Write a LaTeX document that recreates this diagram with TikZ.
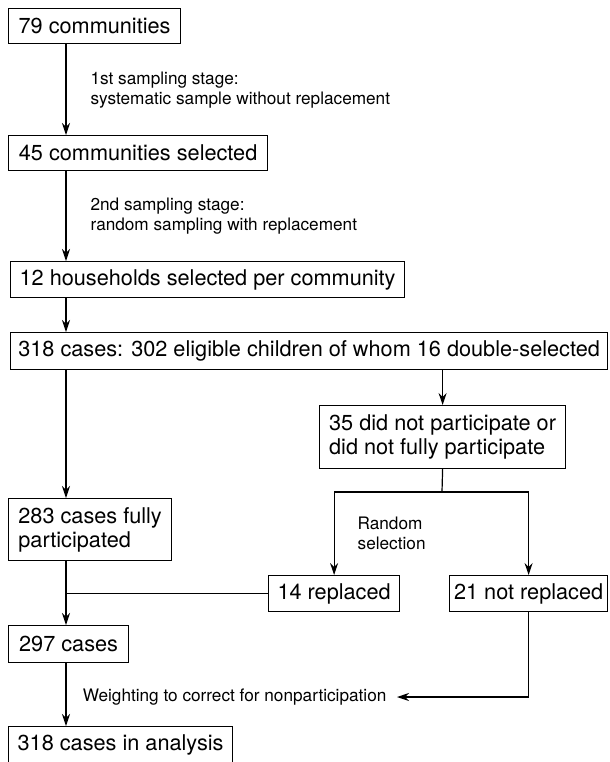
\documentclass[tikz,border=0pt]{standalone}
\usepackage{fontspec}
\setmainfont{TeX Gyre Heros}
\usetikzlibrary{arrows.meta}

\begin{document}
\begin{tikzpicture}[x=0.5pt, y=-0.5pt, line width=0.6pt,
  box/.style={draw, anchor=north west, align=left, inner sep=0pt,
    font=\fontsize{10.85}{12}\selectfont},
  lbl/.style={inner sep=0pt, align=left, font=\fontsize{8.6}{10}\selectfont},
  arr/.style={-{Stealth[length=6pt, width=4pt, inset=2pt]}}]
\path[use as bounding box, clip] (0,0) rectangle (610,762);

\node[box, minimum width=86pt, minimum height=17.5pt] (A) at (8,8) {79 communities};
\node[box, minimum width=129.5pt, minimum height=17.5pt] (B) at (8,135) {45 communities selected};
\node[box, minimum width=197pt, minimum height=18pt] (C) at (10,261) {12 households selected per community};
\node[box, minimum width=298.5pt, minimum height=18.5pt] (D) at (10,332) {318 cases: 302 eligible children of whom 16 double-selected};
\node[box, minimum width=123pt, minimum height=31.5pt] (E) at (319,405) {35 did not participate or\\did not fully participate};
\node[box, minimum width=81.5pt, minimum height=31pt] (F) at (8,498) {283 cases fully\\participated};
\node[box, minimum width=65.5pt, minimum height=18pt] (G) at (268,575) {14 replaced};
\node[box, minimum width=79pt, minimum height=18pt] (H) at (449,575) {21 not replaced};
\node[box, minimum width=60pt, minimum height=18.5pt] (I) at (8,625) {297 cases};
\node[box, minimum width=112pt, minimum height=18.5pt] (J) at (8,726) {318 cases in analysis};
\node[lbl, anchor=east, inner xsep=5pt] (W) at (397,697) {Weighting to correct for nonparticipation};

\coordinate (s) at (66,0);
\coordinate (fk) at (442,492);

\draw[arr] (A.south -| s) -- node[lbl, right=12pt] (L1) {1st sampling stage:\\systematic sample without replacement} (B.north -| s);
\draw[arr] (B.south -| s) -- node[lbl, right=12pt] (L2) {2nd sampling stage:\\random sampling with replacement} (C.north -| s);
\draw[arr] (C.south -| s) -- (D.north -| s);
\draw[arr] (D.south -| s) -- (F.north -| s);
\draw[arr] (D.south -| E.north) -- (E.north);
\draw (E.south) -- (fk);
\draw[arr] (fk) -| node[lbl, pos=0.75, right=11.5pt] (L3) {Random\\selection} (G.north);
\draw[arr] (fk) -| (H.north);
\draw[arr] (F.south -| s) -- (I.north -| s);
\draw (G.west) -- (G.west -| s);
\draw[arr] (I.south -| s) -- (J.north -| s);
\draw[arr] (H.south) |- (W.east);
\end{tikzpicture}
\end{document}
